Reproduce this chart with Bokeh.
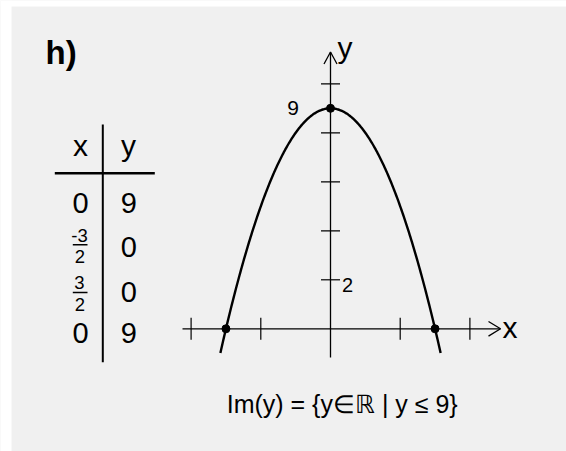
import numpy as np
from bokeh.plotting import figure
from bokeh.models import Range1d
from bokeh.core.properties import value
from bokeh.embed import file_html
from bokeh.resources import INLINE

# ---- data ----
coef_a, coef_c = -4.0, 9.0          # y = a*x^2 + c
x_domain = [-1.58, 1.58]
key_x = [0.0, -1.5, 1.5]
key_y = [9.0, 0.0, 0.0]
x_ticks = [-2, -1, 1, 2]
y_ticks = [2, 4, 6, 8, 10]
y_tick_labels = {9: "9", 2: "2"}
table_x = [("0",), ("-3", "2"), ("3", "2"), ("0",)]
table_y = ["9", "0", "0", "9"]
range_text = "Im(y) = {y\u2208\u211d | y \u2264 9}"

# ---- layout ----
W, H = 566, 451
OX, OY = 330, 328.3      # origin in canvas px
SX, SY = 69.7, 24.5      # px per unit

def X(px):
    return (px - OX) / SX

def Y(py):
    return (OY - py) / SY

FONT = "Liberation Sans, Arial, sans-serif"

p = figure(width=W, height=H, output_backend="svg", toolbar_location=None,
           x_range=Range1d(-OX / SX, (W - OX) / SX),
           y_range=Range1d(-(H - OY) / SY, OY / SY),
           x_axis_location=None, y_axis_location=None,
           min_border=0, tools="")
p.grid.visible = False
p.outline_line_color = None
p.background_fill_color = "#f0f0f0"
p.border_fill_color = "#f0f0f0"


def label(px, base, txt, fs, align="center", bold=False):
    """place text so its alphabetic baseline sits at page y=base"""
    mid = base - 0.3465 * fs
    p.text(x=[X(px)], y=[Y(mid)], text=[txt], text_align=align,
           text_baseline="middle", text_font=value(FONT),
           text_font_size=value(f"{fs}px"),
           text_font_style="bold" if bold else "normal", text_color="black")


# white margins (left and top)
p.quad(left=[X(0), X(0)], right=[X(11), X(W)], bottom=[Y(H), Y(6)], top=[Y(0), Y(0)],
       fill_color="white", line_color=None)

# axes
p.line([X(182), X(500)], [0, 0], line_color="black", line_width=1.3)
p.line([0, 0], [Y(357), Y(51.5)], line_color="black", line_width=1.3)
# arrowheads
p.multi_line([[X(488), X(500), X(488)], [X(323.5), X(330), X(336.5)]],
             [[Y(321), 0, Y(335.6)], [Y(63.5), Y(51.5), Y(63.5)]],
             line_color="black", line_width=1.3)

# ticks
tx = [[t, t] for t in x_ticks]
ty = [[Y(317.3), Y(339.3)] for _ in x_ticks]
p.multi_line(tx, ty, line_color="black", line_width=1.2)
hx = 9.5 / SX
p.multi_line([[-hx, hx] for _ in y_ticks], [[t, t] for t in y_ticks],
             line_color="black", line_width=1.2)

# tick labels
label(292.5, 115, y_tick_labels[9], 21)
label(341.5, 291, y_tick_labels[2], 20, align="left")

# axis labels
label(509.5, 337.7, "x", 30)
label(344.5, 57.7, "y", 30)

# curve
xs = np.linspace(x_domain[0], x_domain[1], 300)
ys = coef_a * xs ** 2 + coef_c
p.line(xs, ys, line_color="black", line_width=2.4)
p.scatter(key_x, key_y, size=8, fill_color="black", line_color="black")

# title
label(45, 63.3, "h)", 33, align="left", bold=True)

# table
p.line([X(102.3), X(102.3)], [Y(124), Y(361.7)], line_color="black", line_width=2)
p.line([X(54.3), X(154.3)], [Y(172.7), Y(172.7)], line_color="black", line_width=2.5)
label(80, 155, "x", 30)
label(128, 155, "y", 30)

row_base = [212.5, 256.5, 301.5, 343]
frac_num_base = [241.7, 288.3]
frac_den_base = [262.7, 310]
frac_bar = [244.3, 292]
fi = 0
for i, (xv, yv) in enumerate(zip(table_x, table_y)):
    if len(xv) == 1:
        label(80, row_base[i], xv[0], 29)
    else:
        label(79.0, frac_num_base[fi], xv[0], 18.5)
        p.line([X(72.3), X(87)], [Y(frac_bar[fi]), Y(frac_bar[fi])],
               line_color="black", line_width=1.5)
        label(79.5, frac_den_base[fi], xv[1], 18.5)
        fi += 1
    label(128.3, row_base[i], yv, 29)

# range
label(341.7, 412, range_text, 25)

open("out.html", "w").write(file_html(p, INLINE))
